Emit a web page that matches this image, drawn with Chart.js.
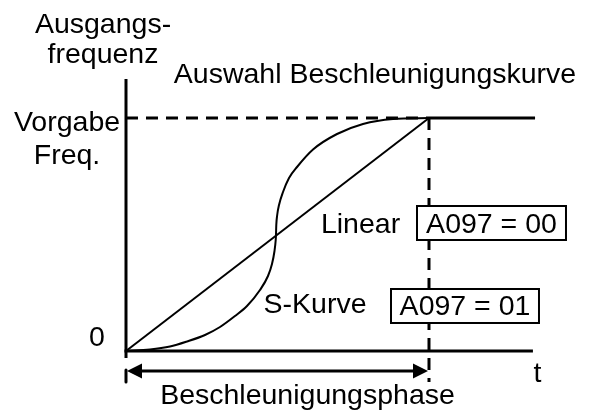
<!DOCTYPE html>
<html>
<head>
<meta charset="utf-8">
<script src="https://cdn.jsdelivr.net/npm/chart.js@4/dist/chart.umd.min.js"></script>
<style>
  html, body { margin: 0; padding: 0; background: #ffffff; }
  #wrap { width: 597px; height: 412px; position: relative; }
</style>
</head>
<body>
<div id="wrap"><canvas id="c"></canvas></div>
<script>
// ---- Data (time in units of the acceleration phase, frequency relative to target) ----
const linearTime = [0, 1];
const linearFreq = [0, 1];

const sCurveTime = [0, 0.0792, 0.1452, 0.2013, 0.2607, 0.3102, 0.3597, 0.3993, 0.4422, 0.4686, 0.4818, 0.4901, 0.4941,
                    0.4950, 0.4960, 0.4990, 0.5050, 0.5182, 0.5380, 0.5644, 0.6172, 0.6964, 0.7822, 0.8812, 1];
const sCurveFreq = [0, 0.0064, 0.0193, 0.0408, 0.0687, 0.1030, 0.1502, 0.1931, 0.2618, 0.3219, 0.3734, 0.4292, 0.4764,
                    0.4979, 0.5408, 0.5837, 0.6266, 0.6824, 0.7425, 0.7897, 0.8648, 0.9313, 0.9742, 0.9957, 1];

const holdTime = [1, 1.35];
const holdFreq = [1, 1];

const targetGuideTime = [0, 1];
const targetGuideFreq = [1, 1];

const phaseEndGuideTime = [1, 1];
const phaseEndGuideFreq = [1, -0.133];

const freqAxisTime = [0, 0];
const freqAxisFreq = [-0.03, 1.167];
const freqAxisTailTime = [0, 0];
const freqAxisTailFreq = [-0.082, -0.133];

const timeAxisTime = [-0.005, 1.343];
const timeAxisFreq = [0, 0];

const phaseRange = [0, 1];           // acceleration phase
const phaseArrowFreq = -0.0858;

const yTickLabels = ['0', 'Vorgabe', 'Freq.'];
const xTickLabels = ['t'];

// ---- Annotations (text and boxes), positioned in data units ----
const texts = [
  { t: 'Ausgangs-', x: -0.0759, y: 1.366 },
  { t: 'frequenz', x: -0.0759, y: 1.236 },
  { t: 'Auswahl Beschleunigungskurve', x: 0.8218, y: 1.150 },
  { t: yTickLabels[1], x: -0.1947, y: 0.944 },
  { t: yTickLabels[2], x: -0.1947, y: 0.8026 },
  { t: yTickLabels[0], x: -0.0957, y: 0.0215 },
  { t: 'Linear', x: 0.774, y: 0.5064 },
  { t: 'S-Kurve', x: 0.6238, y: 0.1631 },
  { t: xTickLabels[0], x: 1.358, y: -0.133 },
  { t: 'Beschleunigungsphase', x: 0.599, y: -0.2275 }
];
const boxes = [
  { t: 'A097 = 00', x0: 0.9604, x1: 1.4521, y0: 0.4764, y1: 0.6223, ty: 0.5064 },
  { t: 'A097 = 01', x0: 0.8746, x1: 1.3630, y0: 0.1202, y1: 0.2661, ty: 0.1545 }
];

const FONT = "28.5px 'Liberation Sans', Arial, Helvetica, sans-serif";

function pts(xs, ys) { return xs.map((v, i) => ({ x: v, y: ys[i] })); }
function seg(xs, ys, w, dash, smooth) {
  const d = {
    data: pts(xs, ys), showLine: true, borderColor: '#000', backgroundColor: '#000',
    borderWidth: w, borderDash: dash || [], pointRadius: 0, pointHoverRadius: 0,
    tension: 0, fill: false, borderCapStyle: 'butt', borderJoinStyle: 'round'
  };
  if (smooth) { d.cubicInterpolationMode = 'monotone'; }
  return d;
}

const annotate = {
  id: 'annotate',
  afterDatasetsDraw(chart) {
    const { ctx, scales: { x, y } } = chart;
    ctx.save();
    // arrow for acceleration phase
    const ay = y.getPixelForValue(phaseArrowFreq);
    const ax0 = x.getPixelForValue(phaseRange[0]) + 1;
    const ax1 = x.getPixelForValue(phaseRange[1]) - 1;
    ctx.strokeStyle = '#000'; ctx.fillStyle = '#000'; ctx.lineWidth = 3;
    ctx.beginPath(); ctx.moveTo(ax0 + 10, ay); ctx.lineTo(ax1 - 10, ay); ctx.stroke();
    ctx.beginPath(); ctx.moveTo(ax0, ay); ctx.lineTo(ax0 + 15, ay - 7.5); ctx.lineTo(ax0 + 15, ay + 7.5); ctx.closePath(); ctx.fill();
    ctx.beginPath(); ctx.moveTo(ax1, ay); ctx.lineTo(ax1 - 15, ay - 7.5); ctx.lineTo(ax1 - 15, ay + 7.5); ctx.closePath(); ctx.fill();

    ctx.font = FONT;
    ctx.textAlign = 'center';
    ctx.textBaseline = 'alphabetic';
    // boxes
    boxes.forEach(b => {
      const px0 = x.getPixelForValue(b.x0), px1 = x.getPixelForValue(b.x1);
      const py0 = y.getPixelForValue(b.y1), py1 = y.getPixelForValue(b.y0);
      ctx.fillStyle = '#fff';
      ctx.fillRect(px0, py0, px1 - px0, py1 - py0);
      ctx.lineWidth = 2; ctx.strokeStyle = '#000';
      ctx.strokeRect(px0, py0, px1 - px0, py1 - py0);
      ctx.fillStyle = '#000';
      ctx.fillText(b.t, (px0 + px1) / 2, y.getPixelForValue(b.ty));
    });
    ctx.fillStyle = '#000';
    texts.forEach(o => ctx.fillText(o.t, x.getPixelForValue(o.x), y.getPixelForValue(o.y)));
    ctx.restore();
  }
};

new Chart(document.getElementById('c'), {
  type: 'scatter',
  data: {
    datasets: [
      seg(targetGuideTime, targetGuideFreq, 3, [12, 8]),
      seg(phaseEndGuideTime, phaseEndGuideFreq, 3, [12, 8]),
      seg(freqAxisTime, freqAxisFreq, 3),
      seg(freqAxisTailTime, freqAxisTailFreq, 3),
      seg(timeAxisTime, timeAxisFreq, 3),
      seg(holdTime, holdFreq, 3),
      seg(linearTime, linearFreq, 2),
      seg(sCurveTime, sCurveFreq, 2, null, true)
    ]
  },
  options: {
    responsive: true,
    maintainAspectRatio: false,
    animation: false,
    layout: { padding: 0 },
    plugins: { legend: { display: false }, tooltip: { enabled: false }, title: { display: false } },
    scales: {
      x: { type: 'linear', min: -0.41584, max: 1.55446, display: false },
      y: { type: 'linear', min: -0.2618, max: 1.50644, display: false }
    }
  },
  plugins: [annotate]
});
</script>
</body>
</html>
